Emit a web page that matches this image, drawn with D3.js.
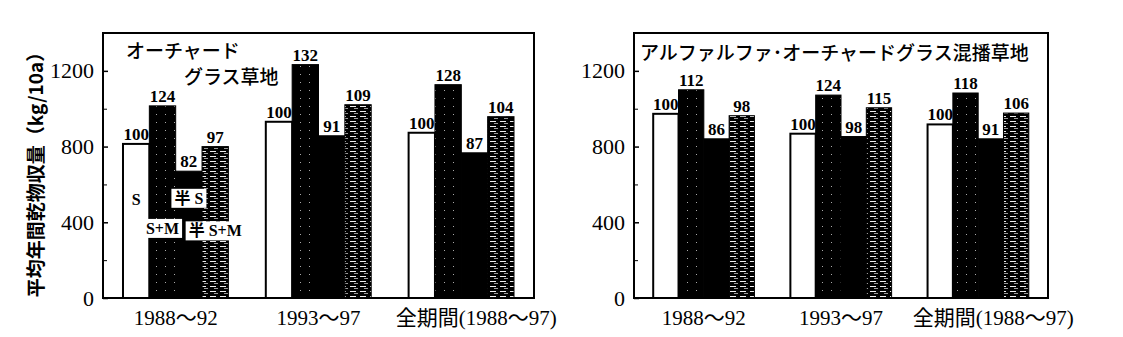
<!DOCTYPE html>
<html>
<head>
<meta charset="utf-8">
<script src="https://cdn.jsdelivr.net/npm/d3@7"></script>
<style>
body { margin:0; background:#fff; }
text { fill:#000; }
.num { font-family:"Liberation Serif","Noto Sans CJK JP",serif; }
.jp { font-family:"Noto Sans CJK JP","Liberation Serif",sans-serif; }
</style>
</head>
<body>
<svg id="chart" width="1123" height="337"></svg>
<script>
// data (kg/10a, index labels as printed)
var groups = ["1988～92", "1993～97", "全期間(1988～97)"];
var series = ["S", "S+M", "半S", "半S+M"];
var orchardYield = [[814, 1015, 670, 800], [931, 1233, 857, 1021], [873, 1127, 767, 958]];
var orchardIndex = [[100, 124, 82, 97], [100, 132, 91, 109], [100, 128, 87, 104]];
var mixedYield = [[973, 1100, 841, 963], [868, 1072, 853, 1005], [917, 1083, 841, 977]];
var mixedIndex = [[100, 112, 86, 98], [100, 124, 98, 115], [100, 118, 91, 106]];
var majorTicks = [0, 400, 800, 1200];
var minorTicks = [200, 600, 1000];
var legendLabels = [["S", "S", 518], ["S+M", "S+M", 365], ["半S", "半 S", 524], ["半S+M", "半 S+M", 352]];

var svg = d3.select("#chart");
var fills = {"S": "#fff", "S+M": "url(#dots)", "半S": "#000", "半S+M": "url(#dash)"};

// patterns
var defs = svg.append("defs");
var p1 = defs.append("pattern").attr("id", "dots").attr("patternUnits", "userSpaceOnUse")
	.attr("width", 9).attr("height", 8);
p1.append("rect").attr("width", 9).attr("height", 8).attr("fill", "#000");
p1.append("rect").attr("x", 3).attr("y", 2).attr("width", 1).attr("height", 1).attr("fill", "#aaa");
var p2 = defs.append("pattern").attr("id", "dash").attr("patternUnits", "userSpaceOnUse")
	.attr("width", 10).attr("height", 5);
p2.append("rect").attr("width", 10).attr("height", 5).attr("fill", "#000");
p2.append("rect").attr("x", 0).attr("y", 1).attr("width", 6).attr("height", 1).attr("fill", "#eee");
p2.append("rect").attr("x", 4).attr("y", 3).attr("width", 4).attr("height", 1).attr("fill", "#999");

function panel(x0, x1, yields, index, title, showLegend){
	var top = 33, bottom = 298;
	var y = d3.scaleLinear().domain([0, 1400]).range([bottom, top]);
	var x = d3.scaleBand().domain(groups).range([x0, x1]).paddingInner(0.262).paddingOuter(0.14);
	var xs = d3.scaleBand().domain(series).range([0, x.bandwidth()]);
	var g = svg.append("g");

	// bars
	groups.forEach(function(grp, gi){
		series.forEach(function(s, si){
			g.append("rect")
				.attr("x", x(grp) + xs(s))
				.attr("y", y(yields[gi][si]))
				.attr("width", xs.bandwidth())
				.attr("height", bottom - y(yields[gi][si]))
				.attr("fill", fills[s])
				.attr("stroke", "#000")
				.attr("stroke-width", s == "S" ? 2 : 1);
			g.append("text").attr("class", "num")
				.attr("x", x(grp) + xs(s) + xs.bandwidth() / 2)
				.attr("y", y(yields[gi][si]) - 4)
				.attr("text-anchor", "middle")
				.style("font-size", "17px").style("font-weight", "bold")
				.text(index[gi][si]);
		});
		g.append("text").attr("class", "num")
			.attr("x", x(grp) + x.bandwidth() / 2 + (gi == 2 ? 15 : 0))
			.attr("y", 325)
			.attr("text-anchor", "middle")
			.style("font-size", "21px")
			.text(grp);
	});

	// frame
	g.append("rect").attr("x", x0).attr("y", top).attr("width", x1 - x0).attr("height", bottom - top)
		.attr("fill", "none").attr("stroke", "#000").attr("stroke-width", 2);

	// y axis, ticks inward
	var axis = d3.axisLeft(y).tickValues(majorTicks).tickSize(-5).tickPadding(9).tickFormat(d3.format("d"));
	var ax = g.append("g").attr("transform", "translate(" + x0 + ",0)").call(axis);
	ax.select(".domain").remove();
	ax.selectAll("line").attr("stroke-width", 1.5);
	ax.selectAll("text").attr("class", "num").style("font-size", "22px").attr("font-family", null);
	var minor = d3.axisLeft(y).tickValues(minorTicks).tickSize(-4).tickFormat("");
	var mx = g.append("g").attr("transform", "translate(" + x0 + ",0)").call(minor);
	mx.select(".domain").remove();

	// title inside frame
	title.forEach(function(t){
		g.append("text").attr("class", "jp")
			.attr("x", t[0]).attr("y", t[1])
			.style("font-size", "19px").style("font-weight", "500")
			.text(t[2]);
	});

	if(showLegend){
		var gx = x(groups[0]);
		legendLabels.forEach(function(l){
			var cx = gx + xs(l[0]) + xs.bandwidth() / 2;
			var cy = y(l[2]);
			var t = g.append("text").attr("class", "num")
				.attr("x", cx).attr("y", cy + 5)
				.attr("text-anchor", "middle")
				.style("font-size", "16px").style("font-weight", "bold")
				.text(l[1]);
			if(l[0] != "S"){
				var bb = t.node().getBBox();
				g.insert("rect", function(){ return t.node(); })
					.attr("x", bb.x - 3).attr("y", bb.y - 1)
					.attr("width", bb.width + 6).attr("height", bb.height + 2)
					.attr("fill", "#fff");
			}
		});
	}
}

panel(103, 534, orchardYield, orchardIndex,
	[[126, 58, "オーチャード"], [184, 84, "グラス草地"]], true);
panel(634, 1048, mixedYield, mixedIndex,
	[[640, 60, "アルファルファ･オーチャードグラス混播草地"]], false);

// y title
svg.append("text").attr("class", "jp")
	.attr("transform", "translate(43,170) rotate(-90)")
	.attr("text-anchor", "middle")
	.style("font-size", "19px").style("font-weight", "bold")
	.text("平均年間乾物収量（kg/10a）");
</script>
</body>
</html>
